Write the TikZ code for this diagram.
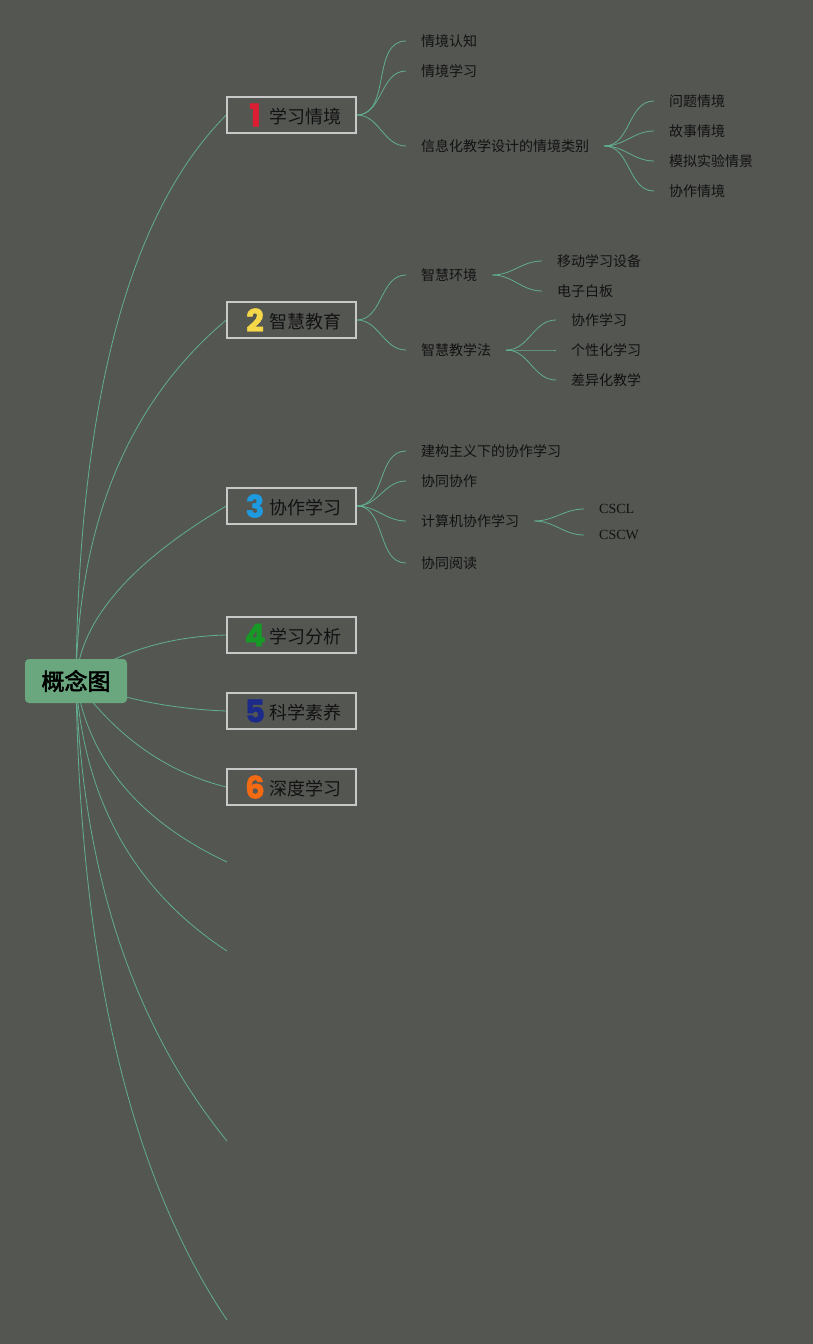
\documentclass[tikz,border=0pt]{standalone}
\usepackage{fontspec}
\newfontfamily\cjk{Noto Sans CJK SC}
\newfontfamily\cjkbold[FakeBold=2.5]{Noto Sans CJK SC}
\newfontfamily\numfont[BoldFeatures={FakeBold=1.5}]{Poppins}
\newfontfamily\serifen{Liberation Serif}
\usetikzlibrary{calc}
\definecolor{bgc}{HTML}{545652}
\definecolor{linec}{HTML}{62AE90}
\definecolor{rootc}{HTML}{6AA77F}
\definecolor{boxc}{HTML}{C8C8C8}
\definecolor{txt}{HTML}{121212}
\definecolor{dA}{HTML}{DC1E32}
\definecolor{dB}{HTML}{F5D84A}
\definecolor{dC}{HTML}{1E9BE0}
\definecolor{dD}{HTML}{169A25}
\definecolor{dE}{HTML}{1C2A8A}
\definecolor{dF}{HTML}{F26A12}
\pgfdeclarelayer{back}
\pgfdeclarelayer{lines}
\pgfsetlayers{back,lines,main}
\newcommand\qcurve[3]{\draw[conn] (#1) .. controls ($(#1)!0.6667!(#2)$) and ($(#3)!0.6667!(#2)$) .. (#3);}
\newcommand\brtext[3]{\hspace{6pt}\makebox[14pt]{\numfont\bfseries\fontsize{31}{31}\selectfont\color{#1}#2}\hspace{7pt}\raisebox{3pt}{#3}}
\begin{document}
\begin{tikzpicture}[x=1pt,y=-1pt,
  rootnode/.style={fill=rootc, rounded corners=4pt, minimum width=102pt, minimum height=44pt, inner sep=0pt, font=\cjkbold\fontsize{23}{23}\selectfont, text=black},
  branchnode/.style={draw=boxc, line width=1.5pt, fill=bgc, minimum width=129pt, minimum height=36pt, inner sep=0pt, font=\cjk\fontsize{18}{18}\selectfont, text=txt},
  leaf/.style={anchor=west, inner xsep=15pt, inner ysep=2pt, font=\cjk\fontsize{14}{14}\selectfont, text=txt},
  leafen/.style={leaf, font=\serifen\fontsize{14}{14}\selectfont},
  conn/.style={draw=linec, line width=0.8pt},
  sconn/.style={conn, out=0, in=180}]
\begin{pgfonlayer}{back}
\fill[bgc] (0,0) rectangle (813,1344);
\end{pgfonlayer}
\useasboundingbox (0,0) rectangle (813,1344);

% root and branches
\node[rootnode] (root) at (76,681) {概念图};
\node[branchnode] (b1) at (291.5,115) {\brtext{dA}{1}{学习情境}};
\node[branchnode] (b2) at (291.5,320) {\brtext{dB}{2}{智慧教育}};
\node[branchnode] (b3) at (291.5,506) {\brtext{dC}{3}{协作学习}};
\node[branchnode] (b4) at (291.5,635) {\brtext{dD}{4}{学习分析}};
\node[branchnode] (b5) at (291.5,711) {\brtext{dE}{5}{科学素养}};
\node[branchnode] (b6) at (291.5,787) {\brtext{dF}{6}{深度学习}};
\coordinate (e1) at (227,862);
\coordinate (e2) at (227,951);
\coordinate (e3) at (227,1141);
\coordinate (e4) at (227,1320);

% branch 1
\node[leaf] (a1) at (406,41) {情境认知};
\node[leaf] (a2) at (406,71) {情境学习};
\node[leaf] (a3) at (406,146) {信息化教学设计的情境类别};
\node[leaf] (a31) at (654,101) {问题情境};
\node[leaf] (a32) at (654,131) {故事情境};
\node[leaf] (a33) at (654,161) {模拟实验情景};
\node[leaf] (a34) at (654,191) {协作情境};

% branch 2
\node[leaf] (s1) at (406,275) {智慧环境};
\node[leaf] (s2) at (406,350) {智慧教学法};
\node[leaf] (s11) at (542,261) {移动学习设备};
\node[leaf] (s12) at (542,291) {电子白板};
\node[leaf] (s21) at (556,320) {协作学习};
\node[leaf] (s22) at (556,350) {个性化学习};
\node[leaf] (s23) at (556,380) {差异化教学};

% branch 3
\node[leaf] (c1) at (406,451) {建构主义下的协作学习};
\node[leaf] (c2) at (406,481) {协同协作};
\node[leaf] (c3) at (406,521) {计算机协作学习};
\node[leaf] (c4) at (406,563) {协同阅读};
\node[leafen] (c31) at (584,509) {CSCL};
\node[leafen] (c32) at (584,535) {CSCW};

\begin{pgfonlayer}{lines}
\qcurve{root.center}{80,262}{b1.west}
\qcurve{root.center}{80,443}{b2.west}
\qcurve{root.center}{82,591}{b3.west}
\qcurve{root.center}{140,637}{b4.west}
\qcurve{root.center}{145,708}{b5.west}
\qcurve{root.center}{137,765}{b6.west}
\qcurve{root.center}{95,800}{e1}
\qcurve{root.center}{88,860}{e2}
\qcurve{root.center}{85,966}{e3}
\qcurve{root.center}{82,1105}{e4}

\foreach \c in {a1,a2,a3} \draw[sconn] (b1.east) to (\c.west);
\foreach \c in {a31,a32,a33,a34} \draw[sconn] (a3.east) to (\c.west);
\foreach \c in {s1,s2} \draw[sconn] (b2.east) to (\c.west);
\foreach \c in {s11,s12} \draw[sconn] (s1.east) to (\c.west);
\foreach \c in {s21,s22,s23} \draw[sconn] (s2.east) to (\c.west);
\foreach \c in {c1,c2,c3,c4} \draw[sconn] (b3.east) to (\c.west);
\foreach \c in {c31,c32} \draw[sconn] (c3.east) to (\c.west);
\end{pgfonlayer}
\end{tikzpicture}
\end{document}
